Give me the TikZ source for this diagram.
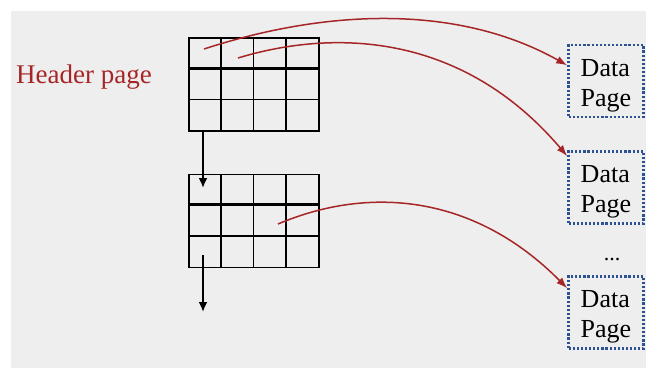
\documentclass[tikz,border=0pt]{standalone}
\usepackage{fontspec}
\setmainfont{Liberation Serif}
\usetikzlibrary{calc}
\usetikzlibrary{arrows.meta, positioning}
\tikzset{>=latex}
\definecolor{hdrred}{RGB}{166,38,40}
\definecolor{dotblue}{RGB}{44,82,148}
\definecolor{bggray}{RGB}{238,238,238}
\tikzset{pagegrid/.style = {shape=rectangle,draw,line width=1.5pt,minimum width=130pt,minimum height=93pt,inner sep=0pt}}
\tikzset{pagebox/.style = {shape=rectangle,draw=dotblue,line width=2.6pt,dash pattern=on 2.2pt off 1.9pt,minimum width=75pt,minimum height=72pt,inner sep=0pt,align=left,font=\fontsize{26}{30}\selectfont}}
\tikzset{ptr/.style = {draw=hdrred,line width=1.5pt,-{Latex[length=11pt,width=8pt]}}}
\tikzset{nextptr/.style = {line width=2.8pt,-{Latex[length=10pt,width=9pt]}}}
\newcommand{\pgtxt}{\rule{0pt}{26pt}Data\\Page}

\begin{document}
\begin{tikzpicture}[x=1pt,y=-1pt]
  \useasboundingbox (0,0) rectangle (646,368);
  \fill[bggray] (11,11) rectangle (646,368);

  \node[anchor=base west, inner sep=0pt, text=hdrred, font=\fontsize{27}{32}\selectfont] (hdr) at (16,83) {Header page};

  \node[pagegrid] (g1) at (254,84.5) {};
  \node[pagegrid] (g2) at (254,221) {};
  \foreach \g in {g1,g2} {
    \foreach \c in {1,2,3} {
      \draw[line width=1.5pt] ($(\g.north west)+(32.5*\c,0)$) -- ($(\g.south west)+(32.5*\c,0)$);
    }
    \draw[line width=3pt] ($(\g.north west)+(0,31)$) -- ($(\g.north east)+(0,31)$);
    \draw[line width=1.5pt] ($(\g.north west)+(0,62)$) -- ($(\g.north east)+(0,62)$);
  }

  \node[pagebox] (p1) at (606,81) {\pgtxt};
  \node[pagebox] (p2) at (606,187.5) {\pgtxt};
  \node[pagebox] (p3) at (606,312.5) {\pgtxt};
  \node[anchor=base, inner sep=0pt, font=\fontsize{22}{26}\selectfont] (more) at (612,260) {...};

  \coordinate (s1) at (204,49);
  \coordinate (s2) at (238,58);
  \coordinate (s3) at (278,224);
  \draw[ptr] (s1) .. controls (330,8) and (460,5) .. (p1.158);
  \draw[ptr] (s2) .. controls (330,30) and (460,30) .. (p2.141);
  \draw[ptr] (s3) .. controls (370,185) and (475,195) .. (p3.148);

  \coordinate (d1) at (203,188);
  \coordinate (u2) at (203,255);
  \coordinate (d2) at (203,312);
  \draw[nextptr] (g1.south -| d1) -- (d1);
  \draw[nextptr] (u2) -- (d2);
\end{tikzpicture}
\end{document}
